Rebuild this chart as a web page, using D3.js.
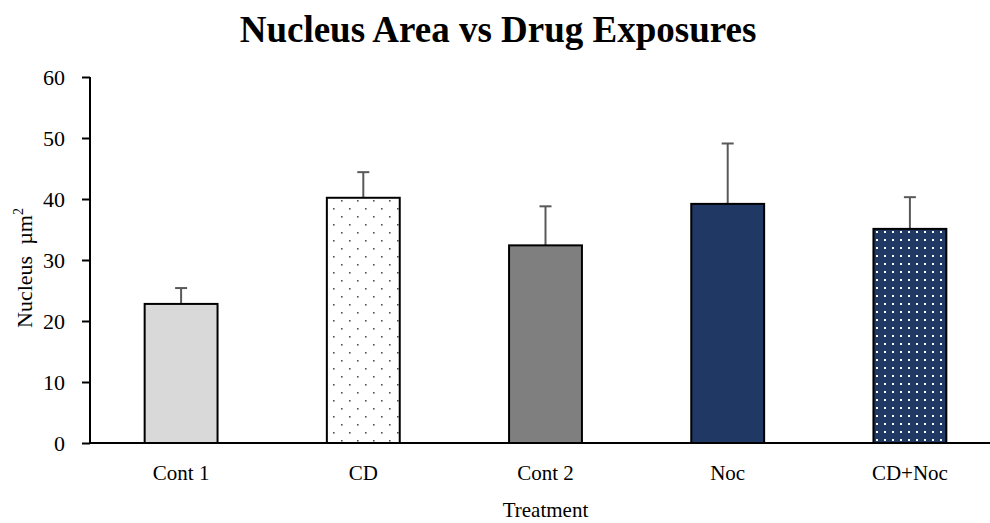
<!DOCTYPE html>
<html>
<head>
<meta charset="utf-8">
<script src="https://cdn.jsdelivr.net/npm/d3@7"></script>
<style>
  body { margin: 0; background: #fff; }
  text { font-family: "Liberation Serif", "Times New Roman", serif; fill: #000; }
</style>
</head>
<body>
<div class="svg-container"></div>
<script>
// chart data
var treatments = ["Cont 1", "CD", "Cont 2", "Noc", "CD+Noc"];
var areaMeans = [22.8, 40.2, 32.4, 39.2, 35.1];
var areaErrors = [2.6, 4.2, 6.4, 9.9, 5.2];
var yTicks = [0, 10, 20, 30, 40, 50, 60];

var W = 990, H = 523;
var margin = {top: 77, right: -11, bottom: 80, left: 90},
    width = W - margin.left - margin.right,
    height = H - margin.top - margin.bottom;

var svg = d3.select(".svg-container").append("svg")
    .attr("width", W)
    .attr("height", H);

// patterns
var defs = svg.append("defs");
var p1 = defs.append("pattern")
    .attr("id", "dotsLight")
    .attr("patternUnits", "userSpaceOnUse")
    .attr("width", 16).attr("height", 16);
p1.append("rect").attr("width", 16).attr("height", 16).attr("fill", "#fff");
p1.append("rect").attr("x", 3).attr("y", 3).attr("width", 1.6).attr("height", 1.6).attr("fill", "#555");
p1.append("rect").attr("x", 11).attr("y", 11).attr("width", 1.6).attr("height", 1.6).attr("fill", "#555");

var p2 = defs.append("pattern")
    .attr("id", "dotsNavy")
    .attr("patternUnits", "userSpaceOnUse")
    .attr("width", 8).attr("height", 8);
p2.append("rect").attr("width", 8).attr("height", 8).attr("fill", "#1f3864");
p2.append("rect").attr("x", 2).attr("y", 2).attr("width", 2).attr("height", 2).attr("fill", "#fff");

var fills = ["#d9d9d9", "url(#dotsLight)", "#7f7f7f", "#1f3864", "url(#dotsNavy)"];

var data = [];
for (let i = 0; i < treatments.length; i++) {
    data.push({name: treatments[i], mean: areaMeans[i], err: areaErrors[i], fill: fills[i]});
}

var g = svg.append("g")
    .attr("transform", "translate(" + margin.left + "," + margin.top + ")");

var x = d3.scaleBand().domain(treatments).range([0, width]).paddingInner(0.6).paddingOuter(0.3);
var y = d3.scaleLinear().domain([0, 60]).range([height, 0]);

// title
svg.append("text")
    .attr("x", 498).attr("y", 42)
    .attr("text-anchor", "middle")
    .style("font-size", "37px")
    .style("font-weight", "bold")
    .text("Nucleus Area vs Drug Exposures");

// error bars (behind bars)
var eb = g.append("g");
eb.selectAll("line.v").data(data).enter().append("line")
    .attr("x1", d => x(d.name) + x.bandwidth() / 2)
    .attr("x2", d => x(d.name) + x.bandwidth() / 2)
    .attr("y1", d => y(d.mean))
    .attr("y2", d => y(d.mean + d.err))
    .attr("stroke", "#595959").attr("stroke-width", 2);
eb.selectAll("line.c").data(data).enter().append("line")
    .attr("x1", d => x(d.name) + x.bandwidth() / 2 - 6)
    .attr("x2", d => x(d.name) + x.bandwidth() / 2 + 6)
    .attr("y1", d => y(d.mean + d.err))
    .attr("y2", d => y(d.mean + d.err))
    .attr("stroke", "#595959").attr("stroke-width", 2);

// bars
g.selectAll("rect.bar").data(data).enter().append("rect")
    .attr("class", "bar")
    .attr("x", d => x(d.name))
    .attr("y", d => y(d.mean))
    .attr("width", x.bandwidth())
    .attr("height", d => height - y(d.mean))
    .attr("fill", d => d.fill)
    .attr("stroke", "#000")
    .attr("stroke-width", 2);

// axes
var yaxis = d3.axisLeft(y).tickValues(yTicks).tickSize(8).tickPadding(17);
var ya = g.append("g").call(yaxis);
ya.select(".domain").attr("stroke", "#000").attr("stroke-width", 2).attr("d", "M0," + (height) + "V0");
ya.selectAll(".tick line").attr("stroke", "#000").attr("stroke-width", 2);
ya.selectAll(".tick text").style("font-size", "22px").style("font-family", "Liberation Serif");

var xaxis = d3.axisBottom(x).tickSize(0).tickPadding(22);
var xa = g.append("g").attr("transform", "translate(0," + height + ")").call(xaxis);
xa.select(".domain").attr("stroke", "#000").attr("stroke-width", 2).attr("d", "M-1,0H" + (W - margin.left));
xa.selectAll(".tick text").style("font-size", "21px").style("font-family", "Liberation Serif");

// axis titles
svg.append("text")
    .attr("x", margin.left + width / 2).attr("y", 517)
    .attr("text-anchor", "middle")
    .style("font-size", "21px")
    .text("Treatment");

var yl = svg.append("text")
    .attr("transform", "translate(32," + (margin.top + height / 2 + 8) + ") rotate(-90)")
    .attr("text-anchor", "middle")
    .style("font-size", "22px");
yl.append("tspan").text("Nucleus\u00a0\u00a0\u00b5m");
yl.append("tspan").attr("dy", "-9").style("font-size", "14px").text("2");
</script>
</body>
</html>
